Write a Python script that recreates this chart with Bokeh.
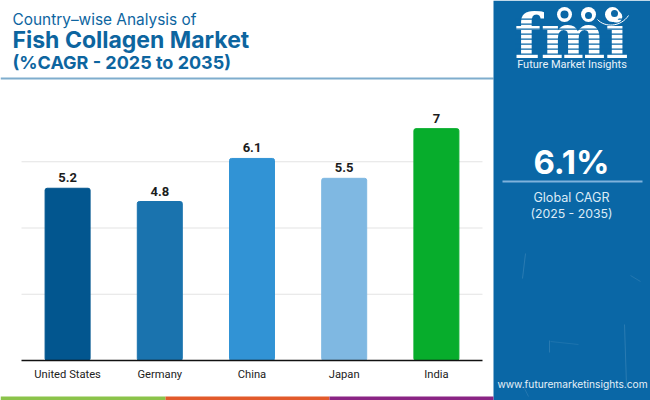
from bokeh.plotting import figure
from bokeh.core.properties import value
from bokeh.models import LinearAxis, ColumnDataSource, FixedTicker, Range1d
from bokeh.embed import file_html
from bokeh.resources import INLINE

categories = ["United States", "Germany", "China", "Japan", "India"]
values = [5.2, 4.8, 6.1, 5.5, 7]
value_labels = ["5.2", "4.8", "6.1", "5.5", "7"]
bar_colors = ["#02568f", "#1a73ae", "#3193d5", "#7fb8e2", "#07ad2c"]
grid_ticks = [2, 4, 6]

title_lines = ["Country\u2013wise Analysis of", "Fish Collagen Market", "(%CAGR - 2025 to 2035)"]
headline = "6.1%"
sub_lines = ["Global CAGR", "(2025 - 2035)"]
brand = "Future Market Insights"
url = "www.futuremarketinsights.com"

W, H = 650, 400
PANEL = "#0a67a6"
TITLE = "#0d659f"

# The frame fills the page; the chart's scales are set so its plot area sits at
# x 21..482 and y 360..95 of the page.
PLOT_L, PLOT_R, PLOT_B, PLOT_T = 21, 482, 360, 95
ux = (PLOT_R - PLOT_L) / len(categories)
uy = (PLOT_B - PLOT_T) / 8
p = figure(width=W, height=H, output_backend="svg", toolbar_location=None,
           x_range=Range1d(-0.5 - PLOT_L / ux, -0.5 + (W - PLOT_L) / ux),
           y_range=Range1d(-(H - PLOT_B) / uy, PLOT_B / uy),
           x_axis_type=None, y_axis_type=None,
           min_border=0, min_border_left=0, min_border_right=0,
           min_border_top=0, min_border_bottom=0)
p.outline_line_color = None
p.background_fill_color = "white"
p.border_fill_color = "white"
p.grid.visible = False
p.extra_x_ranges["px"] = Range1d(0, W)
p.extra_y_ranges["px"] = Range1d(H, 0)

idx = list(range(len(categories)))
src = ColumnDataSource(dict(x=idx, v=values, t=value_labels, col=bar_colors))
n = len(grid_ticks)
p.segment(x0=[-0.5] * n, x1=[len(categories) - 0.5] * n, y0=grid_ticks, y1=grid_ticks,
          line_color="#e3e3e3", line_width=1)
p.vbar(x="x", top="v", bottom=0, width=0.488, color="col", source=src, border_radius=2)
p.text(x="x", y="v", text="t", source=src, text_align="center", text_baseline="bottom",
       y_offset=-6, text_font=value("Roboto"), text_font_style="bold", text_font_size="13px",
       text_color="#1c1c1c")

ax = LinearAxis(ticker=FixedTicker(ticks=idx), fixed_location=0,
                major_label_overrides=dict(zip(idx, categories)),
                bounds=(-0.5, len(categories) - 0.5))
ax.axis_line_color = "#111111"
ax.axis_line_width = 1.3
ax.major_tick_line_color = None
ax.minor_tick_line_color = None
ax.major_label_text_font = "Roboto"
ax.major_label_text_font_size = "11.2px"
ax.major_label_text_color = "#222222"
ax.major_label_standoff = 1
p.add_layout(ax, "below")

PX = dict(x_range_name="px", y_range_name="px")


def box(x0, x1, y0, y1, color):
    p.quad(left=[x0], right=[x1], top=[y0], bottom=[y1], fill_color=color, line_color=None, **PX)


def label(x, y, text, size, color, font="Inter", style="normal", align="left"):
    p.text(x=[x], y=[y], text=[text], text_font=value(font), text_font_size=f"{size}px",
           text_font_style=style, text_color=color, text_align=align,
           text_baseline="middle", **PX)


def streak(x0, y0, x1, y1, alpha=0.13):
    p.segment(x0=[x0], y0=[y0], x1=[x1], y1=[y1], line_color="white", line_alpha=alpha,
              line_width=1, **PX)


# header
box(0, 493, 77, 79, "#7fadcd")
label(12, 19, title_lines[0], 15.4, TITLE)
label(12, 39, title_lines[1], 23, TITLE, style="bold")
label(12, 62, title_lines[2], 18, TITLE, style="bold")

# side panel
box(493, W, 0, H, PANEL)
streak(525, 253, 522, 278)
streak(624, 324, 626, 385)
streak(549, 340, 549, 352)
streak(550, 341, 578, 344, 0.08)
streak(630, 275, 640, 281, 0.1)
streak(524, 388, 528, 396, 0.1)
box(502, 642, 180, 182, "#7fb2dc")
label(571, 161, headline, 33, "white", style="bold", align="center")
label(571, 197, sub_lines[0], 12.6, "#dcebf6", align="center")
label(571, 213, sub_lines[1], 12.3, "#dcebf6", align="center")
label(572, 383, url, 10.2, "#e6f0f8", align="center")

# logo
label(571, 36, "fmi", 61, "white", font="DejaVu Serif", style="bold", align="center")
for y in range(18, 58, 5):
    box(515, 628, y, y + 1.2, PANEL)
p.scatter(x=[564, 588, 612], y=[14, 14, 14], size=15, marker="circle", fill_color="white",
          line_color=None, **PX)
p.scatter(x=[564, 588, 614], y=[14, 15, 13], size=[8, 7, 7], marker="circle", fill_color=PANEL,
          line_color=None, **PX)
p.bezier(x0=[597], y0=[19], x1=[628], y1=[15], cx0=[604], cy0=[27], cx1=[620], cy1=[27],
         line_color="white", line_width=1, **PX)
label(571.5, 64, brand, 11, "#e8f2fa", font="Roboto", align="center")

# bottom strip
box(0, 165, 396, 400, "#8bc34a")
box(165, 329, 396, 400, "#e25a2b")
box(329, 493, 396, 400, "#8a2484")

open("out.html", "w").write(file_html(p, INLINE))
